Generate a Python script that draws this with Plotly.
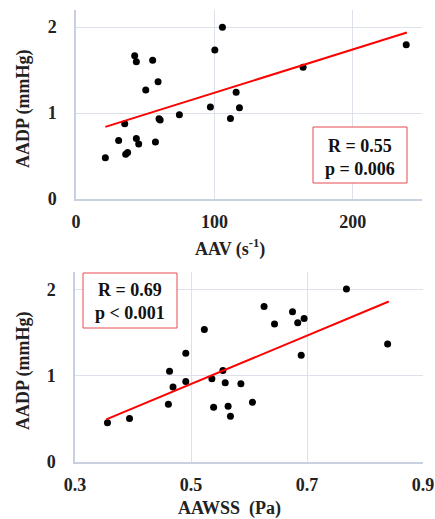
import plotly.graph_objects as go

# ---- data ----
aav = [21.2, 30.8, 35.2, 35.9, 37.3, 42.4, 43.6, 43.6, 45.3, 50.4, 55.4, 57.4,
       59.3, 60.0, 60.8, 74.7, 97.1, 100.3, 105.8, 111.6, 115.7, 118.1, 164.1, 238.6]
aadp_top = [0.48, 0.68, 0.876, 0.52, 0.54, 1.667, 1.597, 0.705, 0.64, 1.27, 1.616, 0.663,
            1.364, 0.935, 0.92, 0.98, 1.07, 1.733, 2.0, 0.938, 1.244, 1.062, 1.535, 1.795]
trend_top_x = [21.2, 239.1]
trend_top_y = [0.84, 1.938]

aawss = [0.356, 0.394, 0.461, 0.463, 0.469, 0.491, 0.491, 0.523, 0.536, 0.539, 0.555, 0.559,
         0.564, 0.568, 0.586, 0.606, 0.626, 0.644, 0.675, 0.684, 0.695, 0.690, 0.768, 0.839]
aadp_bot = [0.455, 0.505, 0.669, 1.05, 0.868, 1.258, 0.933, 1.533, 0.963, 0.634, 1.059, 0.917,
            0.646, 0.531, 0.906, 0.692, 1.80, 1.598, 1.739, 1.613, 1.663, 1.235, 2.003, 1.365]
trend_bot_x = [0.354, 0.841]
trend_bot_y = [0.493, 1.858]

top_ticks = [0, 100, 200]
bot_ticks = [0.3, 0.5, 0.7, 0.9]
y_ticks = [0, 1, 2]
stats_top = ["R = 0.55", "p = 0.006"]
stats_bot = ["R = 0.69", "p &lt; 0.001"]

W, H = 435, 519
FONT = "Liberation Serif"
GRID = "#dde1ea"
AXIS = "#c9d0df"

def px_x(p):
    return p / W

def px_y(p):
    return 1 - p / H

fig = go.Figure()
fig.add_trace(go.Scatter(x=aav, y=aadp_top, mode="markers", xaxis="x", yaxis="y",
                         marker=dict(color="black", size=7), showlegend=False))
fig.add_trace(go.Scatter(x=trend_top_x, y=trend_top_y, mode="lines", xaxis="x", yaxis="y",
                         line=dict(color="#ff0000", width=2), showlegend=False))
fig.add_trace(go.Scatter(x=aawss, y=aadp_bot, mode="markers", xaxis="x2", yaxis="y2",
                         marker=dict(color="black", size=7), showlegend=False))
fig.add_trace(go.Scatter(x=trend_bot_x, y=trend_bot_y, mode="lines", xaxis="x2", yaxis="y2",
                         line=dict(color="#ff0000", width=2), showlegend=False))

tickfont = dict(family=FONT, size=18, color="#222222", weight="bold")
common_x = dict(showgrid=True, gridcolor=GRID, gridwidth=1, zeroline=False,
                showline=True, linecolor=AXIS, linewidth=1.5, automargin=False,
                ticks="outside", ticklen=6, tickcolor="rgba(0,0,0,0)",
                tickfont=tickfont)
common_y = dict(showgrid=True, gridcolor=GRID, gridwidth=1, zeroline=False,
                showline=True, linecolor=AXIS, linewidth=1.5, automargin=False,
                ticks="outside", ticklen=14, tickcolor="rgba(0,0,0,0)",
                tickfont=tickfont, range=[0, 2.2], tickvals=y_ticks)

fig.update_layout(
    width=W, height=H,
    margin=dict(l=0, r=0, t=0, b=0, autoexpand=False),
    paper_bgcolor="white", plot_bgcolor="white",
    xaxis=dict(common_x, domain=[px_x(76), px_x(422)], range=[0, 250],
               tickvals=top_ticks, anchor="y"),
    yaxis=dict(common_y, domain=[px_y(199), px_y(10)], anchor="x"),
    xaxis2=dict(common_x, domain=[px_x(75), px_x(423)], range=[0.3, 0.9],
                tickvals=bot_ticks, tickformat=".1f", anchor="y2",
                ticklabeloverflow="allow"),
    yaxis2=dict(common_y, domain=[px_y(462), px_y(272)], anchor="x2"),
)

def ann(text, x, y, font, angle=0):
    fig.add_annotation(text=text, xref="paper", yref="paper", x=px_x(x), y=px_y(y),
                       xanchor="center", yanchor="middle", showarrow=False,
                       font=font, textangle=angle)

titlefont = dict(family=FONT, size=18, color="#222222")
ann("<b>AAV (s<sup>-1</sup>)</b>", 230, 248, titlefont)
ann("<b>AAWSS  (Pa)</b>", 229, 508, titlefont)
ann("<b>AADP (mmHg)</b>", 23, 109, titlefont, -90)
ann("<b>AADP (mmHg)</b>", 23, 371, titlefont, -90)

boxfont = dict(family=FONT, size=18, color="#111111")
fig.add_shape(type="rect", xref="paper", yref="paper",
              x0=px_x(313), x1=px_x(407), y0=px_y(183), y1=px_y(127),
              line=dict(color="#e84a4f", width=1), fillcolor="white")
ann("<br>".join("<b>%s</b>" % s for s in stats_top), 360, 157, boxfont)
fig.add_shape(type="rect", xref="paper", yref="paper",
              x0=px_x(83), x1=px_x(177), y0=px_y(328), y1=px_y(273),
              line=dict(color="#e84a4f", width=1), fillcolor="white")
ann("<br>".join("<b>%s</b>" % s for s in stats_bot), 130, 301, boxfont)

fig.write_html("out.html",
               config={"displayModeBar": False},
               post_script="document.body.style.margin='0';"
                           "document.documentElement.style.overflow='hidden';"
                           "document.body.style.overflow='hidden';")
